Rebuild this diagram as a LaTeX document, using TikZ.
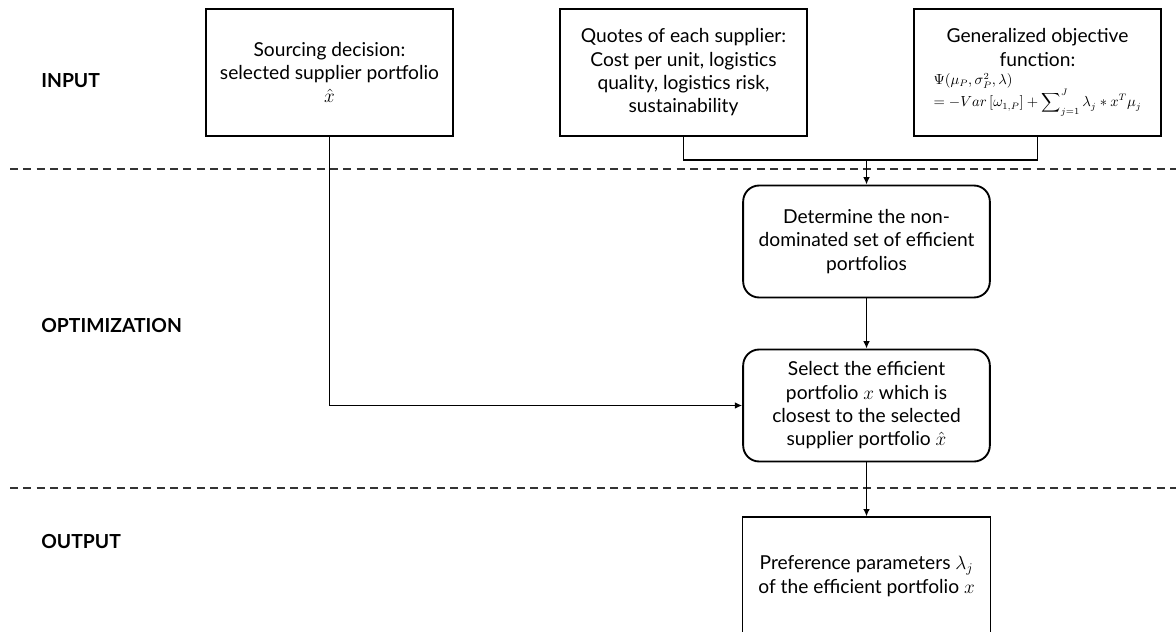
\documentclass[tikz,border=0pt]{standalone}
\usepackage{fontspec}
\setmainfont{Lato}
\usetikzlibrary{arrows.meta}

\begin{document}
\begin{tikzpicture}[x=0.75pt,y=-0.75pt,line width=1.4pt,>={Latex[length=5.5pt,width=5pt]},
	box/.style={rectangle, draw, align=center, minimum width=185pt, font=\fontsize{14.4}{17.5}\selectfont},
	step box/.style={box, rounded corners=12pt, minimum height=84pt},
	phase/.style={anchor=west, font=\bfseries\fontsize{14.5}{17}\selectfont},
	sep line/.style={dashed, dash pattern=on 6pt off 4pt, line width=1.5pt, draw=black!80}]
	\useasboundingbox (0,0) rectangle (1176,631);
	\clip (0,0) rectangle (1176,631);
	% phase labels
	\node (in)	at (36, 81)	[phase]	{INPUT};
	\node (opt)	at (36, 326)	[phase]	{OPTIMIZATION};
	\node (outp)	at (36, 542)	[phase]	{OUTPUT};
	\draw[sep line] (10,169) -- (1176,169);
	\draw[sep line] (10,488) -- (1176,488);
	% input boxes
	\node (src)	at (329.5, 72.5)	[box, minimum height=95pt]	{Sourcing decision:\\selected supplier portfolio\\$\hat{x}$};
	\node (quo)	at (683.5, 72.5)	[box, minimum height=95pt]	{Quotes of each supplier:\\Cost per unit, logistics\\quality, logistics risk,\\sustainability};
	\node (gen)	at (1037.5, 72.5)	[box, minimum height=95pt]	{Generalized objective\\function:\\[4pt]
		{\fontsize{10.5}{12.5}\selectfont\begin{tabular}{@{}l@{}}$\Psi(\mu_P,\sigma_P^2,\lambda)$\\
		$=-Var\left[\omega_{1,P}\right]+\displaystyle\sum\nolimits_{j=1}^{J}\lambda_j*x^T\mu_j$\end{tabular}}};
	% optimization and output
	\node (det)	at (866.5, 241.5)	[step box]	{Determine the non-\\dominated set of efficient\\portfolios};
	\node (sel)	at (866.5, 405.5)	[step box]	{Select the efficient\\portfolio $x$ which is\\closest to the selected\\supplier portfolio $\hat{x}$};
	\node (res)	at (866.5, 576)	[box, minimum width=186pt, minimum height=88pt]	{Preference parameters $\lambda_j$\\of the efficient portfolio $x$};
	\coordinate (jn) at (866.5, 160);
	\draw (quo.south) |- (jn);
	\draw (gen.south) |- (jn);
	\draw[->] (jn) -- (det.north);
	\draw[->] (det) -- (sel);
	\draw[->] (sel) -- (res);
	\draw[->] (src.south) |- (sel.west);
\end{tikzpicture}
\end{document}
